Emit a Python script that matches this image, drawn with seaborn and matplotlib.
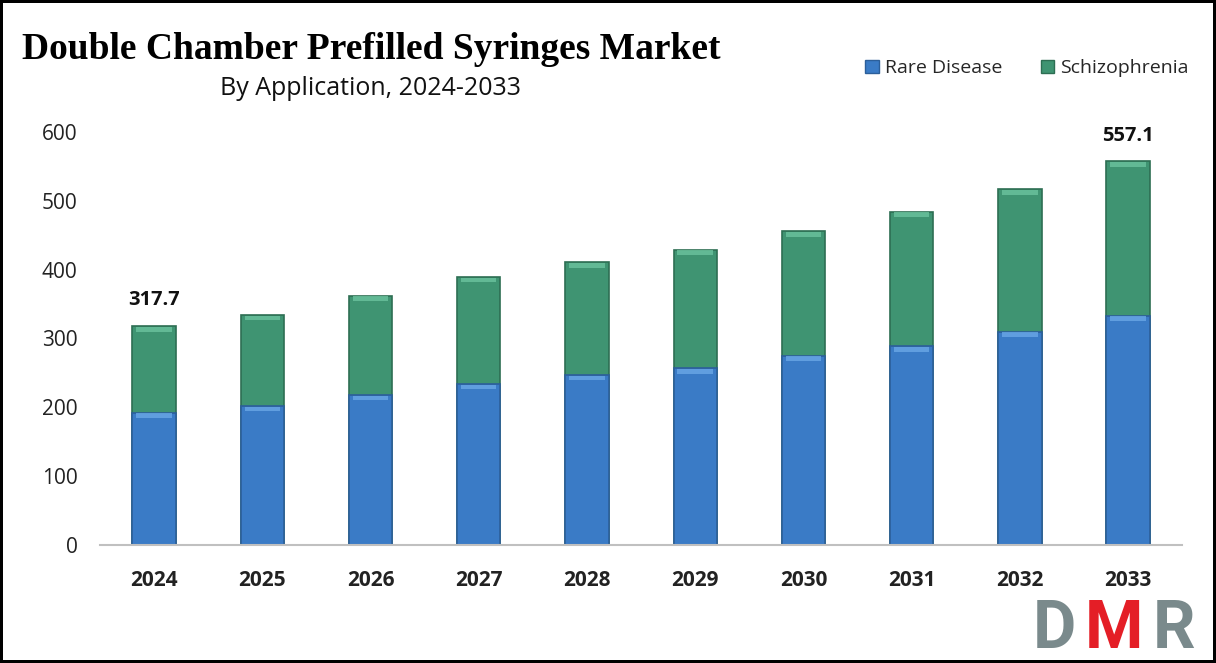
import matplotlib
matplotlib.use("Agg")
import matplotlib.pyplot as plt
import seaborn as sns
import numpy as np
import pandas as pd

years = ["2024", "2025", "2026", "2027", "2028", "2029", "2030", "2031", "2032", "2033"]
rare_disease = [192.0, 202.0, 218.0, 234.0, 247.0, 257.0, 275.0, 289.0, 310.0, 333.0]
schizophrenia = [125.7, 132.3, 144.0, 155.5, 164.0, 172.0, 181.0, 195.0, 207.0, 224.1]
y_ticks = [0, 100, 200, 300, 400, 500, 600]

BLUE = "#3a7bc6"
BLUE_EDGE = "#2c5f9a"
BLUE_LIGHT = "#6aa8e6"
GREEN = "#3f9472"
GREEN_EDGE = "#2d6e53"
GREEN_LIGHT = "#6cc39e"

sns.set_theme(style="white")
plt.rcParams["font.family"] = ["Open Sans", "DejaVu Sans"]

df = pd.DataFrame({"Year": years, "Rare Disease": rare_disease, "Schizophrenia": schizophrenia})
df["Total"] = df["Rare Disease"] + df["Schizophrenia"]

fig = plt.figure(figsize=(12.16, 6.63), dpi=100, edgecolor="black", linewidth=3)
ax = fig.add_axes([0.0822, 0.178, 0.890, 0.623])

bw = 0.4
sns.barplot(data=df, x="Year", y="Total", color=GREEN, width=bw, ax=ax,
            edgecolor=GREEN_EDGE, linewidth=1.2, saturation=1)
sns.barplot(data=df, x="Year", y="Rare Disease", color=BLUE, width=bw, ax=ax,
            edgecolor=BLUE_EDGE, linewidth=1.2, saturation=1)

# bevel highlight strips at the top of each segment
xs = np.arange(len(years))
bev = 7
ax.bar(xs, bev, bottom=df["Total"] - bev - 1, width=bw * 0.82, color=GREEN_LIGHT, linewidth=0, alpha=0.8)
ax.bar(xs, bev, bottom=df["Rare Disease"] - bev - 1, width=bw * 0.82, color=BLUE_LIGHT, linewidth=0, alpha=0.8)

ax.set_ylim(0, 600)
ax.set_xlim(-0.5, len(years) - 0.5)
ax.set_yticks(y_ticks)
ax.set_yticklabels([str(t) for t in y_ticks], fontsize=15, color="#222222")
ax.set_xticks(xs)
ax.set_xticklabels(years, fontsize=15, fontweight="bold", color="#222222")
ax.tick_params(axis="y", pad=16, length=0)
ax.tick_params(axis="x", pad=18, length=0)
ax.set_xlabel("")
ax.set_ylabel("")
for s in ["top", "right", "left"]:
    ax.spines[s].set_visible(False)
ax.spines["bottom"].set_color("#c0c0c0")
ax.spines["bottom"].set_linewidth(1.5)
if ax.get_legend() is not None:
    ax.get_legend().remove()

# value labels on first and last bars
for i in [0, len(years) - 1]:
    ax.text(xs[i], df["Total"].iloc[i] + 23, f"{df['Total'].iloc[i]:.1f}", ha="center", va="bottom",
            fontsize=14.5, fontweight="bold", color="#111111")

# legend
handles = [plt.Rectangle((0, 0), 1, 1, facecolor=BLUE, edgecolor=BLUE_EDGE),
           plt.Rectangle((0, 0), 1, 1, facecolor=GREEN, edgecolor=GREEN_EDGE)]
fig.legend(handles, ["Rare Disease", "Schizophrenia"], loc="center right", bbox_to_anchor=(0.992, 0.897),
           ncol=2, frameon=False, fontsize=14, handlelength=0.7, handleheight=0.7,
           handletextpad=0.3, columnspacing=2.0)

# titles
fig.text(0.0181, 0.925, "Double Chamber Prefilled Syringes Market", fontsize=27, fontweight="bold",
         family=["Liberation Serif", "DejaVu Serif"], ha="left", va="center", color="black")
fig.text(0.305, 0.866, "By Application, 2024-2033", fontsize=18, ha="center", va="center", color="#111111")

# DMR logo
logo_font = dict(fontsize=48, fontweight="bold", family=["Roboto", "DejaVu Sans"], va="baseline", ha="left")
fig.text(0.849, 0.022, "D", color="#7a8a8c", **logo_font)
fig.text(0.892, 0.022, "M", color="#e41e26", **logo_font)
fig.text(0.948, 0.022, "R", color="#7a8a8c", **logo_font)

fig.savefig("out.png", dpi=100)
